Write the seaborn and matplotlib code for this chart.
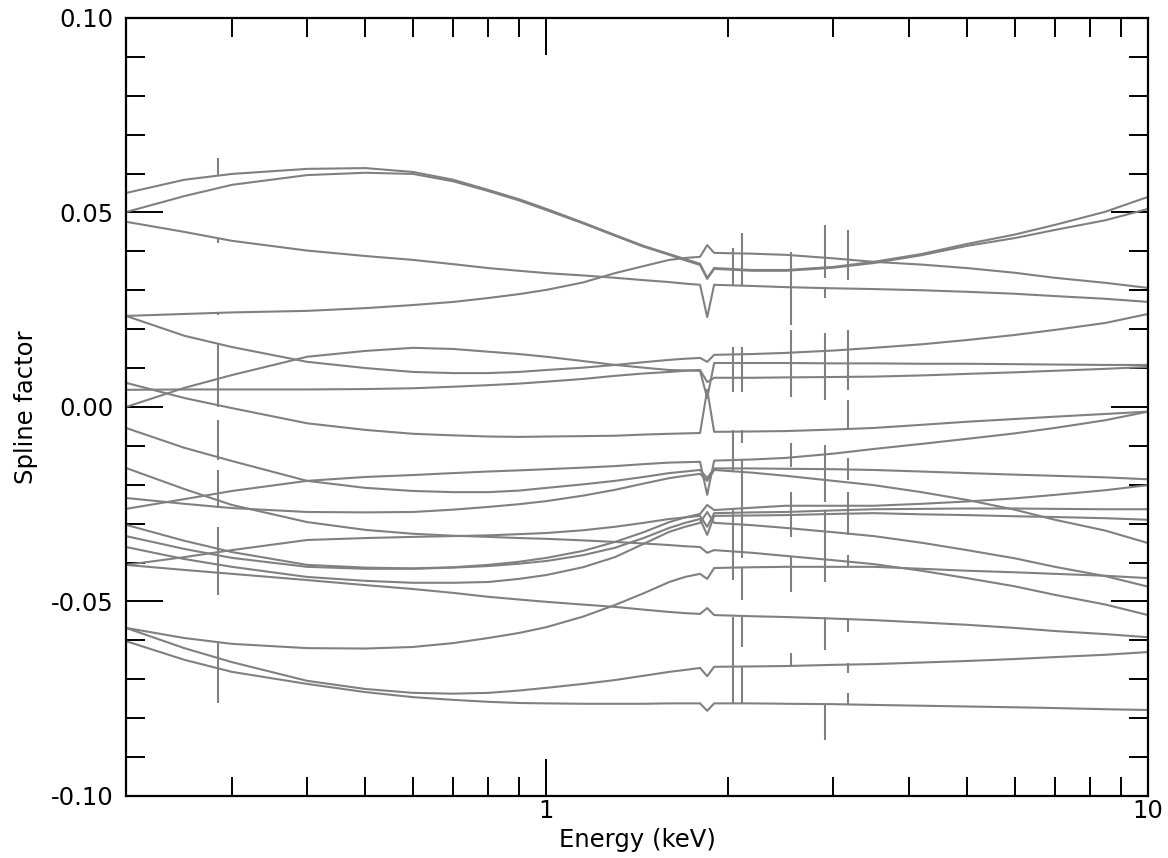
import matplotlib
matplotlib.use("Agg")
import matplotlib.pyplot as plt
import numpy as np
import pandas as pd
import seaborn as sns
from matplotlib.ticker import FixedLocator, FuncFormatter, FormatStrFormatter, LogLocator, NullFormatter

# Energy grid (keV) at which each spline factor curve is tabulated
energy_kev = [0.2, 0.25, 0.3, 0.4, 0.5, 0.6, 0.7, 0.8, 0.9, 1.0, 1.15, 1.3, 1.45, 1.6, 1.7,
              1.8, 1.85, 1.9, 2.2, 2.5, 3.0, 3.5, 4.2, 5.0, 6.0, 7.0, 8.5, 10.0]

# Spline factor curves (one list per fitted component)
s01 = [0.0550, 0.0584, 0.0599, 0.0612, 0.0614, 0.0604, 0.0584, 0.0558, 0.0534, 0.0509, 0.0474, 0.0442, 0.0414, 0.0393, 0.0380,
       0.0368, 0.0332, 0.0357, 0.0352, 0.0352, 0.0360, 0.0373, 0.0393, 0.0419, 0.0443, 0.0468, 0.0502, 0.0540]
s02 = [0.0501, 0.0542, 0.0571, 0.0596, 0.0602, 0.0599, 0.0580, 0.0555, 0.0531, 0.0506, 0.0472, 0.0440, 0.0412, 0.0391, 0.0377,
       0.0365, 0.0329, 0.0355, 0.0350, 0.0350, 0.0358, 0.0370, 0.0390, 0.0414, 0.0434, 0.0455, 0.0480, 0.0509]
s03 = [0.0476, 0.0450, 0.0427, 0.0402, 0.0388, 0.0378, 0.0367, 0.0357, 0.0350, 0.0344, 0.0338, 0.0332, 0.0326, 0.0321, 0.0317,
       0.0314, 0.0231, 0.0314, 0.0311, 0.0308, 0.0305, 0.0303, 0.0300, 0.0296, 0.0291, 0.0285, 0.0278, 0.0270]
s04 = [0.0234, 0.0239, 0.0243, 0.0247, 0.0254, 0.0262, 0.0270, 0.0280, 0.0290, 0.0301, 0.0320, 0.0344, 0.0362, 0.0378, 0.0383,
       0.0386, 0.0416, 0.0396, 0.0394, 0.0391, 0.0382, 0.0373, 0.0366, 0.0357, 0.0345, 0.0332, 0.0319, 0.0306]
s05 = [0.0234, 0.0183, 0.0154, 0.0116, 0.0100, 0.0090, 0.0087, 0.0087, 0.0090, 0.0095, 0.0101, 0.0108, 0.0115, 0.0121, 0.0124,
       0.0126, 0.0116, 0.0134, 0.0136, 0.0139, 0.0145, 0.0152, 0.0161, 0.0172, 0.0185, 0.0198, 0.0216, 0.0239]
s06 = [0.0000, 0.0049, 0.0082, 0.0129, 0.0144, 0.0152, 0.0149, 0.0142, 0.0136, 0.0129, 0.0118, 0.0108, 0.0101, 0.0095, 0.0094,
       0.0093, 0.0023, 0.0113, 0.0113, 0.0113, 0.0112, 0.0112, 0.0111, 0.0111, 0.0110, 0.0109, 0.0108, 0.0108]
s07 = [0.0044, 0.0045, 0.0045, 0.0045, 0.0046, 0.0048, 0.0052, 0.0056, 0.0060, 0.0065, 0.0072, 0.0080, 0.0086, 0.0090, 0.0093,
       0.0095, 0.0064, 0.0075, 0.0075, 0.0076, 0.0077, 0.0078, 0.0081, 0.0085, 0.0089, 0.0093, 0.0098, 0.0103]
s08 = [0.0062, 0.0023, -0.0003, -0.0042, -0.0059, -0.0069, -0.0073, -0.0076, -0.0077, -0.0076, -0.0075, -0.0074, -0.0071, -0.0069, -0.0068,
       -0.0067, 0.0044, -0.0064, -0.0063, -0.0062, -0.0058, -0.0054, -0.0046, -0.0038, -0.0031, -0.0025, -0.0018, -0.0012]
s09 = [-0.0054, -0.0105, -0.0139, -0.0190, -0.0208, -0.0216, -0.0219, -0.0219, -0.0215, -0.0208, -0.0199, -0.0190, -0.0180, -0.0170, -0.0166,
       -0.0162, -0.0183, -0.0158, -0.0158, -0.0159, -0.0160, -0.0162, -0.0166, -0.0170, -0.0174, -0.0177, -0.0181, -0.0186]
s10 = [-0.0262, -0.0237, -0.0216, -0.0190, -0.0180, -0.0175, -0.0170, -0.0166, -0.0163, -0.0160, -0.0156, -0.0152, -0.0147, -0.0143, -0.0142,
       -0.0141, -0.0226, -0.0138, -0.0135, -0.0131, -0.0120, -0.0108, -0.0095, -0.0082, -0.0068, -0.0054, -0.0034, -0.0012]
s11 = [-0.0234, -0.0249, -0.0260, -0.0270, -0.0271, -0.0270, -0.0264, -0.0257, -0.0250, -0.0242, -0.0228, -0.0213, -0.0197, -0.0183, -0.0177,
       -0.0172, -0.0190, -0.0162, -0.0169, -0.0177, -0.0190, -0.0201, -0.0219, -0.0239, -0.0264, -0.0290, -0.0318, -0.0350]
s12 = [-0.0157, -0.0211, -0.0252, -0.0296, -0.0316, -0.0326, -0.0331, -0.0334, -0.0337, -0.0339, -0.0343, -0.0347, -0.0351, -0.0355, -0.0358,
       -0.0360, -0.0375, -0.0368, -0.0375, -0.0383, -0.0394, -0.0404, -0.0421, -0.0440, -0.0461, -0.0483, -0.0508, -0.0535]
s13 = [-0.0406, -0.0386, -0.0368, -0.0342, -0.0337, -0.0334, -0.0332, -0.0330, -0.0327, -0.0324, -0.0317, -0.0308, -0.0298, -0.0288, -0.0284,
       -0.0280, -0.0308, -0.0273, -0.0271, -0.0270, -0.0266, -0.0263, -0.0262, -0.0261, -0.0261, -0.0262, -0.0263, -0.0263]
s14 = [-0.0303, -0.0344, -0.0373, -0.0406, -0.0413, -0.0415, -0.0412, -0.0406, -0.0398, -0.0388, -0.0370, -0.0347, -0.0322, -0.0296, -0.0284,
       -0.0275, -0.0252, -0.0265, -0.0259, -0.0254, -0.0254, -0.0254, -0.0249, -0.0243, -0.0235, -0.0226, -0.0214, -0.0201]
s15 = [-0.0332, -0.0365, -0.0388, -0.0411, -0.0416, -0.0416, -0.0413, -0.0409, -0.0403, -0.0396, -0.0381, -0.0362, -0.0337, -0.0311, -0.0298,
       -0.0288, -0.0329, -0.0280, -0.0279, -0.0278, -0.0275, -0.0273, -0.0276, -0.0278, -0.0281, -0.0283, -0.0286, -0.0290]
s16 = [-0.0360, -0.0391, -0.0411, -0.0437, -0.0447, -0.0452, -0.0452, -0.0450, -0.0442, -0.0432, -0.0412, -0.0386, -0.0352, -0.0321, -0.0308,
       -0.0298, -0.0270, -0.0298, -0.0304, -0.0311, -0.0322, -0.0332, -0.0349, -0.0368, -0.0389, -0.0411, -0.0435, -0.0462]
s17 = [-0.0406, -0.0419, -0.0429, -0.0445, -0.0458, -0.0468, -0.0478, -0.0488, -0.0495, -0.0501, -0.0508, -0.0514, -0.0521, -0.0527, -0.0530,
       -0.0532, -0.0517, -0.0535, -0.0538, -0.0540, -0.0544, -0.0548, -0.0554, -0.0560, -0.0568, -0.0576, -0.0584, -0.0592]
s18 = [-0.0568, -0.0594, -0.0609, -0.0620, -0.0621, -0.0617, -0.0607, -0.0594, -0.0581, -0.0566, -0.0539, -0.0509, -0.0479, -0.0450, -0.0437,
       -0.0429, -0.0442, -0.0414, -0.0412, -0.0411, -0.0411, -0.0411, -0.0416, -0.0421, -0.0425, -0.0429, -0.0434, -0.0440]
s19 = [-0.0568, -0.0620, -0.0656, -0.0704, -0.0725, -0.0735, -0.0737, -0.0735, -0.0729, -0.0722, -0.0712, -0.0702, -0.0691, -0.0681, -0.0676,
       -0.0671, -0.0692, -0.0668, -0.0667, -0.0666, -0.0663, -0.0661, -0.0657, -0.0653, -0.0648, -0.0643, -0.0637, -0.0630]
s20 = [-0.0602, -0.0650, -0.0681, -0.0712, -0.0733, -0.0746, -0.0753, -0.0758, -0.0761, -0.0762, -0.0763, -0.0763, -0.0763, -0.0762, -0.0762,
       -0.0762, -0.0781, -0.0762, -0.0762, -0.0763, -0.0764, -0.0766, -0.0768, -0.0770, -0.0772, -0.0774, -0.0777, -0.0779]

curves = [s01, s02, s03, s04, s05, s06, s07, s08, s09, s10,
          s11, s12, s13, s14, s15, s16, s17, s18, s19, s20]

# Absorption edges (C K and Ir M5..M1) and the narrow spikes of the curves there, as (top, bottom)
edge_energies = [0.284, 2.04, 2.116, 2.551, 2.909, 3.174]
spikes_c_k = [(0.0640, 0.0594), (0.0434, 0.0422), (0.0244, 0.0237), (0.0165, 0.0000),
              (-0.0033, -0.0136), (-0.0162, -0.0260), (-0.0308, -0.0483), (-0.0607, -0.0761)]
spikes_ir_m5 = [(0.0409, 0.0314), (0.0154, 0.0039), (-0.0059, -0.0167), (-0.0265, -0.0445), (-0.0540, -0.0761)]
spikes_ir_m4 = [(0.0447, 0.0314), (0.0154, 0.0039), (-0.0059, -0.0093), (-0.0136, -0.0388),
                (-0.0414, -0.0496), (-0.0540, -0.0617), (-0.0668, -0.0761)]
spikes_ir_m3 = [(0.0398, 0.0211), (0.0198, 0.0026), (-0.0093, -0.0154), (-0.0219, -0.0334),
                (-0.0386, -0.0476), (-0.0632, -0.0663)]
spikes_ir_m2 = [(0.0468, 0.0332), (0.0306, 0.0280), (0.0190, 0.0018), (-0.0098, -0.0244),
                (-0.0265, -0.0450), (-0.0540, -0.0625), (-0.0766, -0.0856)]
spikes_ir_m1 = [(0.0455, 0.0326), (0.0198, 0.0044), (0.0018, -0.0059), (-0.0131, -0.0188),
                (-0.0219, -0.0329), (-0.0380, -0.0411), (-0.0542, -0.0578), (-0.0658, -0.0684),
                (-0.0735, -0.0766)]
edge_spikes = [spikes_c_k, spikes_ir_m5, spikes_ir_m4, spikes_ir_m3, spikes_ir_m2, spikes_ir_m1]

# Long-form table for seaborn
frames = []
for i, vals in enumerate(curves):
    frames.append(pd.DataFrame({"energy": energy_kev, "factor": vals, "curve": f"s{i + 1:02d}"}))
df = pd.concat(frames, ignore_index=True)

sns.set_style("white")
plt.rcParams.update({
    "font.family": ["DejaVu Sans"],
    "axes.unicode_minus": False,
    "text.color": "black",
    "axes.labelcolor": "black",
    "xtick.color": "black",
    "ytick.color": "black",
})

line_color = "#808080"
fig = plt.figure(figsize=(11.68, 8.58), dpi=100)
ax = fig.add_axes([0.1079, 0.0723, 0.8750, 0.9068])

sns.lineplot(data=df, x="energy", y="factor", hue="curve",
             palette=[line_color] * len(curves), estimator=None, sort=False,
             legend=False, linewidth=1.5, ax=ax)

for e, segs in zip(edge_energies, edge_spikes):
    tops = [s[0] for s in segs]
    bottoms = [s[1] for s in segs]
    ax.vlines([e] * len(segs), bottoms, tops, colors=line_color, linewidth=1.5)

ax.set_xscale("log")
ax.set_xlim(0.2, 10)
ax.set_ylim(-0.10, 0.10)

ax.xaxis.set_major_locator(FixedLocator([1, 10]))
ax.xaxis.set_major_formatter(FuncFormatter(lambda v, _: f"{v:g}"))
ax.xaxis.set_minor_locator(LogLocator(base=10, subs=np.arange(2, 10)))
ax.xaxis.set_minor_formatter(NullFormatter())

ax.yaxis.set_major_locator(FixedLocator([-0.10, -0.05, 0.0, 0.05, 0.10]))
ax.yaxis.set_major_formatter(FormatStrFormatter("%.2f"))
ax.yaxis.set_minor_locator(FixedLocator(np.round(np.arange(-0.09, 0.10, 0.01), 2)))

for side in ["left", "right", "top", "bottom"]:
    ax.spines[side].set_visible(True)
    ax.spines[side].set_color("black")
    ax.spines[side].set_linewidth(1.6)

ax.tick_params(which="both", direction="in", left=True, bottom=True, top=True, right=True,
               color="black", width=1.4, labelsize=17.5, labelcolor="black")
ax.tick_params(which="major", length=26.5)
ax.tick_params(which="minor", length=13.5)
ax.tick_params(axis="x", which="major", pad=2)
ax.tick_params(axis="y", which="major", pad=9)

ax.set_xlabel("Energy (keV)", fontsize=17.5, labelpad=4, color="black")
ax.set_ylabel("Spline factor", fontsize=17.5, labelpad=9, color="black")

fig.savefig("out.png", dpi=100, facecolor="white")
